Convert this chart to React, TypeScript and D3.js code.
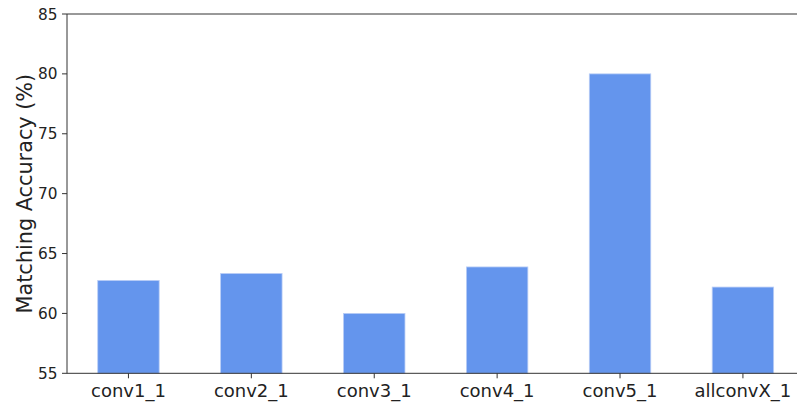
import React from "react";
import * as d3 from "d3";

const categories = ["conv1_1", "conv2_1", "conv3_1", "conv4_1", "conv5_1", "allconvX_1"];
const accuracy = [62.75, 63.33, 60.0, 63.88, 80.0, 62.2];
const yTicks = [55, 60, 65, 70, 75, 80, 85];
const yLabel = "Matching Accuracy (%)";

const W = 797;
const H = 402;
const left = 67;
const right = 797;
const top = 14;
const bottom = 373.3;

export default function App() {
  const x = d3.scaleLinear().domain([-0.5, 5.44]).range([left, right]);
  const y = d3.scaleLinear().domain([55, 85]).range([bottom, top]);
  const barW = x(0.5) - x(0);
  const font = "'DejaVu Sans', sans-serif";
  return (
    <svg
      width={W}
      height={H}
      style={{ position: "absolute", left: 0, top: 0, background: "#fff" }}
      fontFamily={font}
    >
      {accuracy.map((v, i) => (
        <rect
          key={categories[i]}
          x={x(i) - barW / 2}
          y={y(v)}
          width={barW}
          height={y(55) - y(v)}
          fill="#6495ED"
          stroke="#b9cdf6"
          strokeWidth={0.8}
        />
      ))}
      {/* spines */}
      <line x1={left} x2={left} y1={top} y2={bottom} stroke="#333" strokeWidth={1} />
      <line x1={left} x2={right} y1={bottom} y2={bottom} stroke="#333" strokeWidth={1} />
      <line x1={left} x2={right} y1={top} y2={top} stroke="#333" strokeWidth={1} />
      {/* y ticks */}
      {yTicks.map((t) => (
        <g key={t}>
          <line x1={left - 5} x2={left} y1={y(t)} y2={y(t)} stroke="#333" strokeWidth={1} />
          <text
            x={left - 9.5}
            y={y(t)}
            dy="0.36em"
            textAnchor="end"
            fontSize={15.3}
            fill="#222"
          >
            {t}
          </text>
        </g>
      ))}
      {/* x ticks */}
      {categories.map((c, i) => (
        <g key={c}>
          <line x1={x(i)} x2={x(i)} y1={bottom} y2={bottom + 5} stroke="#333" strokeWidth={1} />
          <text x={x(i)} y={397} textAnchor="middle" fontSize={18} fill="#222">
            {c}
          </text>
        </g>
      ))}
      <text
        transform={`translate(31.5, ${(top + bottom) / 2}) rotate(-90)`}
        textAnchor="middle"
        fontSize={20.8}
        fill="#222"
      >
        {yLabel}
      </text>
    </svg>
  );
}
